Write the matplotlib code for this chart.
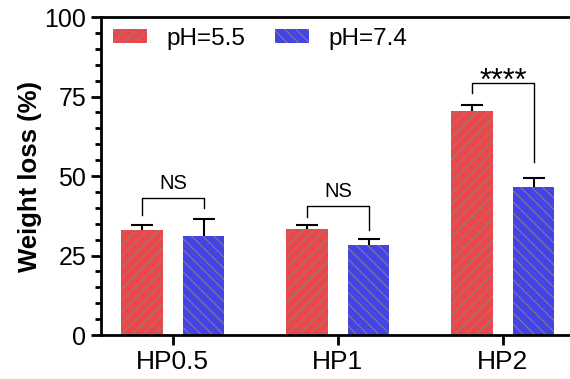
import numpy as np
from matplotlib import pyplot as plt
from matplotlib.ticker import MultipleLocator

plt.rcParams['font.family'] = ['Liberation Sans', 'DejaVu Sans']
plt.rcParams['hatch.linewidth'] = 0.7

# data
groups = ["HP0.5", "HP1", "HP2"]
series = ["pH=5.5", "pH=7.4"]
acid_mean = [33.0, 33.5, 70.3]
acid_err = [1.5, 1.2, 2.0]
neutral_mean = [31.2, 28.3, 46.7]
neutral_err = [5.4, 1.8, 2.8]
sig_labels = ["NS", "NS", "****"]
# bracket: top, left leg bottom, right leg bottom
bracket_top = [43.1, 40.7, 79.2]
bracket_left = [37.8, 37.0, 76.0]
bracket_right = [40.0, 33.0, 54.4]

red = "#ea4848"
blue = "#4444e4"
hatch_col = "#8c7f8c"

fig = plt.figure(figsize=(5.7, 3.79), dpi=100)
ax = fig.add_axes([0.177, 0.116, 0.823, 0.839])

x = np.arange(len(groups))
off = 0.187
w = 0.25

ax.bar(x - off, acid_mean, w, color=red, edgecolor=hatch_col, linewidth=0,
       hatch="///", label=series[0], zorder=2)
ax.bar(x + off, neutral_mean, w, color=blue, edgecolor=hatch_col, linewidth=0,
       hatch="\\\\\\", label=series[1], zorder=2)

# upper error bars only, hide the lower cap
for xs, m, e in [(x - off, acid_mean, acid_err), (x + off, neutral_mean, neutral_err)]:
    eb = ax.errorbar(xs, m, yerr=[np.zeros(3), e], fmt="none", ecolor="black",
                     elinewidth=1.5, capsize=8, capthick=1.5, zorder=3)
    eb[1][0].set_visible(False)

for i in range(len(groups)):
    xl, xr = x[i] - off, x[i] + off
    ax.plot([xl, xl, xr, xr], [bracket_left[i], bracket_top[i], bracket_top[i], bracket_right[i]],
            color="black", lw=1.0, zorder=3)
    if sig_labels[i] == "NS":
        ax.text(x[i], bracket_top[i] + 1.5, sig_labels[i], ha="center", va="bottom", fontsize=14.5)
    else:
        ax.text(x[i], 77.0, sig_labels[i], ha="center", va="baseline", fontsize=22)

ax.set_xlim(-0.436, 2.406)
ax.set_ylim(0, 100)
ax.set_xticks(x)
ax.set_xticklabels(groups)
ax.yaxis.set_major_locator(MultipleLocator(25))
ax.yaxis.set_minor_locator(MultipleLocator(5))
ax.tick_params(axis="y", labelsize=18, width=2, length=7)
ax.tick_params(axis="y", which="minor", width=2, length=4)
ax.tick_params(axis="x", width=2, length=7, labelsize=19)
ax.set_ylabel("Weight loss (%)", fontsize=18.5, fontweight="bold", labelpad=2)

for s in ["left", "bottom", "top"]:
    ax.spines[s].set_linewidth(2)
ax.spines["right"].set_visible(False)

ax.legend(loc="upper left", ncol=2, frameon=False, fontsize=17.5,
          handlelength=1.4, handleheight=0.5, columnspacing=1.2,
          bbox_to_anchor=(-0.02, 1.035))

fig.savefig("out.png", dpi=100)
